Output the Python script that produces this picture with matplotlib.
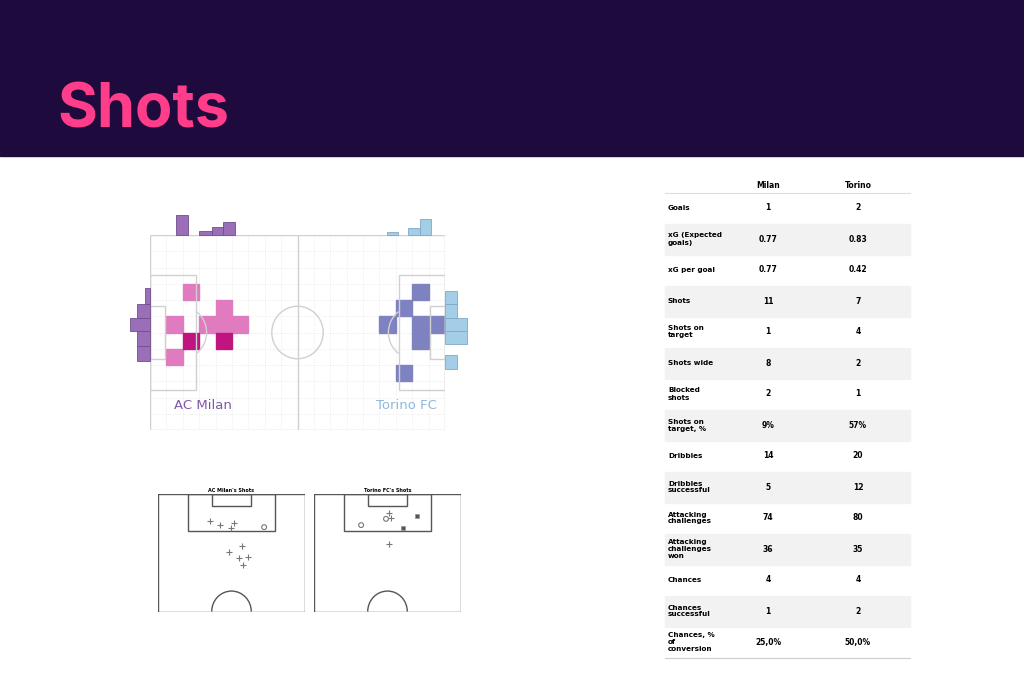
import matplotlib
matplotlib.use("Agg")
import matplotlib.pyplot as plt
from matplotlib.patches import Rectangle, Arc, Circle

# ---------------- data ----------------
milan_cells_light = [(2, 3), (1, 5), (1, 7), (3, 5), (4, 4), (4, 5), (5, 5)]
milan_cells_dark = [(2, 6), (4, 6)]
torino_cells = [(16, 3), (15, 4), (14, 5), (16, 5), (17, 5), (16, 6), (15, 8)]

milan_top_x = [9.3, 17.6, 22.0, 26.0]
milan_top_w = [4.4, 4.4, 4.0, 4.4]
milan_top_h = [7.1, 1.4, 2.9, 4.4]
torino_top_x = [84.5, 92.0, 96.0]
torino_top_w = [3.8, 4.0, 4.0]
torino_top_h = [1.2, 2.5, 5.5]
milan_side_y = [18.4, 24.2, 28.8, 33.4, 38.6]
milan_side_h = [5.8, 4.6, 4.6, 5.2, 5.2]
milan_side_w = [1.8, 4.8, 7.1, 4.8, 4.8]
torino_side_y = [19.6, 24.2, 28.8, 33.4, 42.0]
torino_side_h = [4.6, 4.6, 4.6, 4.6, 4.8]
torino_side_w = [4.2, 4.2, 7.7, 7.7, 4.2]

milan_shots_x = [24.1, 28.7, 33.8, 35.2, 38.9, 32.9, 37.5, 41.7, 39.4]
milan_shots_y = [12.0, 13.9, 15.3, 13.0, 23.1, 25.9, 28.7, 28.2, 31.5]
milan_saved_x = [49.1]
milan_saved_y = [14.8]
torino_shots_x = [34.7, 35.6, 34.7]
torino_shots_y = [8.3, 10.6, 22.2]
torino_saved_x = [33.3, 21.8]
torino_saved_y = [11.1, 13.9]
torino_goal_x = [47.7, 41.2]
torino_goal_y = [9.7, 15.3]

stat_labels = ["Goals", "xG (Expected\ngoals)", "xG per goal", "Shots", "Shots on\ntarget",
               "Shots wide", "Blocked\nshots", "Shots on\ntarget, %", "Dribbles",
               "Dribbles\nsuccessful", "Attacking\nchallenges", "Attacking\nchallenges\nwon",
               "Chances", "Chances\nsuccessful", "Chances, %\nof\nconversion"]
milan_vals = ["1", "0.77", "0.77", "11", "1", "8", "2", "9%", "14", "5", "74", "36", "4", "1", "25,0%"]
torino_vals = ["2", "0.83", "0.42", "7", "4", "2", "1", "57%", "20", "12", "80", "35", "4", "2", "50,0%"]

# ---------------- figure ----------------
W, H = 1024, 683
fig = plt.figure(figsize=(W / 100, H / 100), dpi=100)
bg = fig.add_axes([0, 0, 1, 1])
bg.set_xlim(0, W); bg.set_ylim(H, 0); bg.axis("off")
bg.add_patch(Rectangle((0, 0), W, 156, color="#1e0a3c", zorder=0))
bg.text(57, 127, "Shots", color="#ff3d8b", fontsize=44, fontweight="bold", va="baseline",
        family="Inter")

# table
tx0, tx1 = 665, 910
bg.text(768, 185, "Milan", fontsize=5.5, fontweight="bold", ha="center", va="center")
bg.text(858, 185, "Torino", fontsize=5.5, fontweight="bold", ha="center", va="center")
bg.plot([tx0, tx1], [193, 193], color="#dddddd", lw=0.8)
row_h = 31.0
for i, lab in enumerate(stat_labels):
    yc = 208 + i * row_h
    if i % 2 == 1:
        bg.add_patch(Rectangle((tx0, yc - row_h / 2), tx1 - tx0, row_h, color="#f2f2f2", zorder=0))
    bg.text(668, yc, lab, fontsize=5.2, fontweight="bold", ha="left", va="center", linespacing=1.2)
    bg.text(768, yc, milan_vals[i], fontsize=5.5, fontweight="bold", ha="center", va="center")
    bg.text(858, yc, torino_vals[i], fontsize=5.5, fontweight="bold", ha="center", va="center")
bg.plot([tx0, tx1], [208 + 14.5 * row_h, 208 + 14.5 * row_h], color="#cccccc", lw=0.8)


def px_axes(x0, y0, x1, y1):
    return fig.add_axes([x0 / W, 1 - y1 / H, (x1 - x0) / W, (y1 - y0) / H])


# ---------------- heatmap pitch ----------------
ax = px_axes(150, 235, 445, 430)
L, Wd = 105, 68
ax.set_xlim(0, L); ax.set_ylim(Wd, 0); ax.axis("off")
cw, ch = L / 18, Wd / 12
for i in range(1, 18):
    ax.plot([i * cw] * 2, [0, Wd], color="#ececec", lw=0.5, ls=(0, (2, 1.5)), zorder=1)
for j in range(1, 12):
    ax.plot([0, L], [j * ch] * 2, color="#ececec", lw=0.5, ls=(0, (2, 1.5)), zorder=1)
lc = "#d0d0d0"
ax.add_patch(Rectangle((0, 0), L, Wd, fill=False, ec=lc, lw=1, zorder=3))
ax.plot([L / 2, L / 2], [0, Wd], color=lc, lw=1, zorder=3)
ax.add_patch(Circle((L / 2, Wd / 2), 9.15, fill=False, ec=lc, lw=1, zorder=3))
for side in (0, 1):
    if side == 0:
        ax.add_patch(Rectangle((0, Wd / 2 - 20.16), 16.5, 40.32, fill=False, ec=lc, lw=1, zorder=3))
        ax.add_patch(Rectangle((0, Wd / 2 - 9.16), 5.5, 18.32, fill=False, ec=lc, lw=1, zorder=3))
        ax.add_patch(Arc((11, Wd / 2), 18.3, 18.3, theta1=-53, theta2=53, ec=lc, lw=1, zorder=3))
    else:
        ax.add_patch(Rectangle((L - 16.5, Wd / 2 - 20.16), 16.5, 40.32, fill=False, ec=lc, lw=1, zorder=3))
        ax.add_patch(Rectangle((L - 5.5, Wd / 2 - 9.16), 5.5, 18.32, fill=False, ec=lc, lw=1, zorder=3))
        ax.add_patch(Arc((L - 11, Wd / 2), 18.3, 18.3, theta1=127, theta2=233, ec=lc, lw=1, zorder=3))
for (c, r) in milan_cells_light:
    ax.add_patch(Rectangle((c * cw, r * ch), cw, ch, color="#e07bbf", zorder=2))
for (c, r) in milan_cells_dark:
    ax.add_patch(Rectangle((c * cw, r * ch), cw, ch, color="#c0157f", zorder=2))
for (c, r) in torino_cells:
    ax.add_patch(Rectangle((c * cw, r * ch), cw, ch, color="#7f82c0", zorder=2))
mp, mpe = "#9a6fb8", "#6f4e8c"
tb, tbe = "#a4cde8", "#7fa9c8"
for x, w, h in zip(milan_top_x, milan_top_w, milan_top_h):
    ax.add_patch(Rectangle((x, -h), w, h, fc=mp, ec=mpe, lw=0.6, clip_on=False, zorder=4))
for x, w, h in zip(torino_top_x, torino_top_w, torino_top_h):
    ax.add_patch(Rectangle((x, -h), w, h, fc=tb, ec=tbe, lw=0.6, clip_on=False, zorder=4))
for y, hh, w in zip(milan_side_y, milan_side_h, milan_side_w):
    ax.add_patch(Rectangle((-w, y), w, hh, fc=mp, ec=mpe, lw=0.6, clip_on=False, zorder=4))
for y, hh, w in zip(torino_side_y, torino_side_h, torino_side_w):
    ax.add_patch(Rectangle((L, y), w, hh, fc=tb, ec=tbe, lw=0.6, clip_on=False, zorder=4))
ax.text(8.5, 59.5, "AC Milan", color="#7e57a8", fontsize=9.5, va="center", zorder=5)
ax.text(80.5, 59.5, "Torino FC", color="#8fb8dd", fontsize=9.5, va="center", zorder=5)


# ---------------- shot maps ----------------
def half_pitch(a, title):
    a.set_xlim(0, 68); a.set_ylim(52.7, 0); a.axis("off")
    k = "#555555"
    a.plot([0, 68], [0, 0], color=k, lw=1)
    a.plot([0, 0], [0, 52.7], color=k, lw=1)
    a.plot([68, 68], [0, 52.7], color=k, lw=1)
    a.plot([0, 68], [52.5, 52.5], color=k, lw=1)
    a.add_patch(Rectangle((34 - 20.16, 0), 40.32, 16.5, fill=False, ec=k, lw=1))
    a.add_patch(Rectangle((34 - 9.16, 0), 18.32, 5.5, fill=False, ec=k, lw=1))
    a.add_patch(Arc((34, 52.5), 18.3, 18.3, theta1=180, theta2=360, ec=k, lw=1))
    a.set_title(title, fontsize=3.5, fontweight="bold", pad=1.5)


a1 = px_axes(158, 494, 305, 612)
half_pitch(a1, "AC Milan's Shots")
a1.scatter(milan_shots_x, milan_shots_y, marker="+", s=14, c="#777777", lw=0.8)
a1.scatter(milan_saved_x, milan_saved_y, marker="o", s=12, facecolors="none", edgecolors="#777777", lw=0.8)
a2 = px_axes(314, 494, 461, 612)
half_pitch(a2, "Torino FC's Shots")
a2.scatter(torino_shots_x, torino_shots_y, marker="+", s=14, c="#777777", lw=0.8)
a2.scatter(torino_saved_x, torino_saved_y, marker="o", s=12, facecolors="none", edgecolors="#777777", lw=0.8)
a2.scatter(torino_goal_x, torino_goal_y, marker="s", s=10, c="#555555", lw=0.6, edgecolors="#999999")

fig.savefig("out.png", dpi=100)
